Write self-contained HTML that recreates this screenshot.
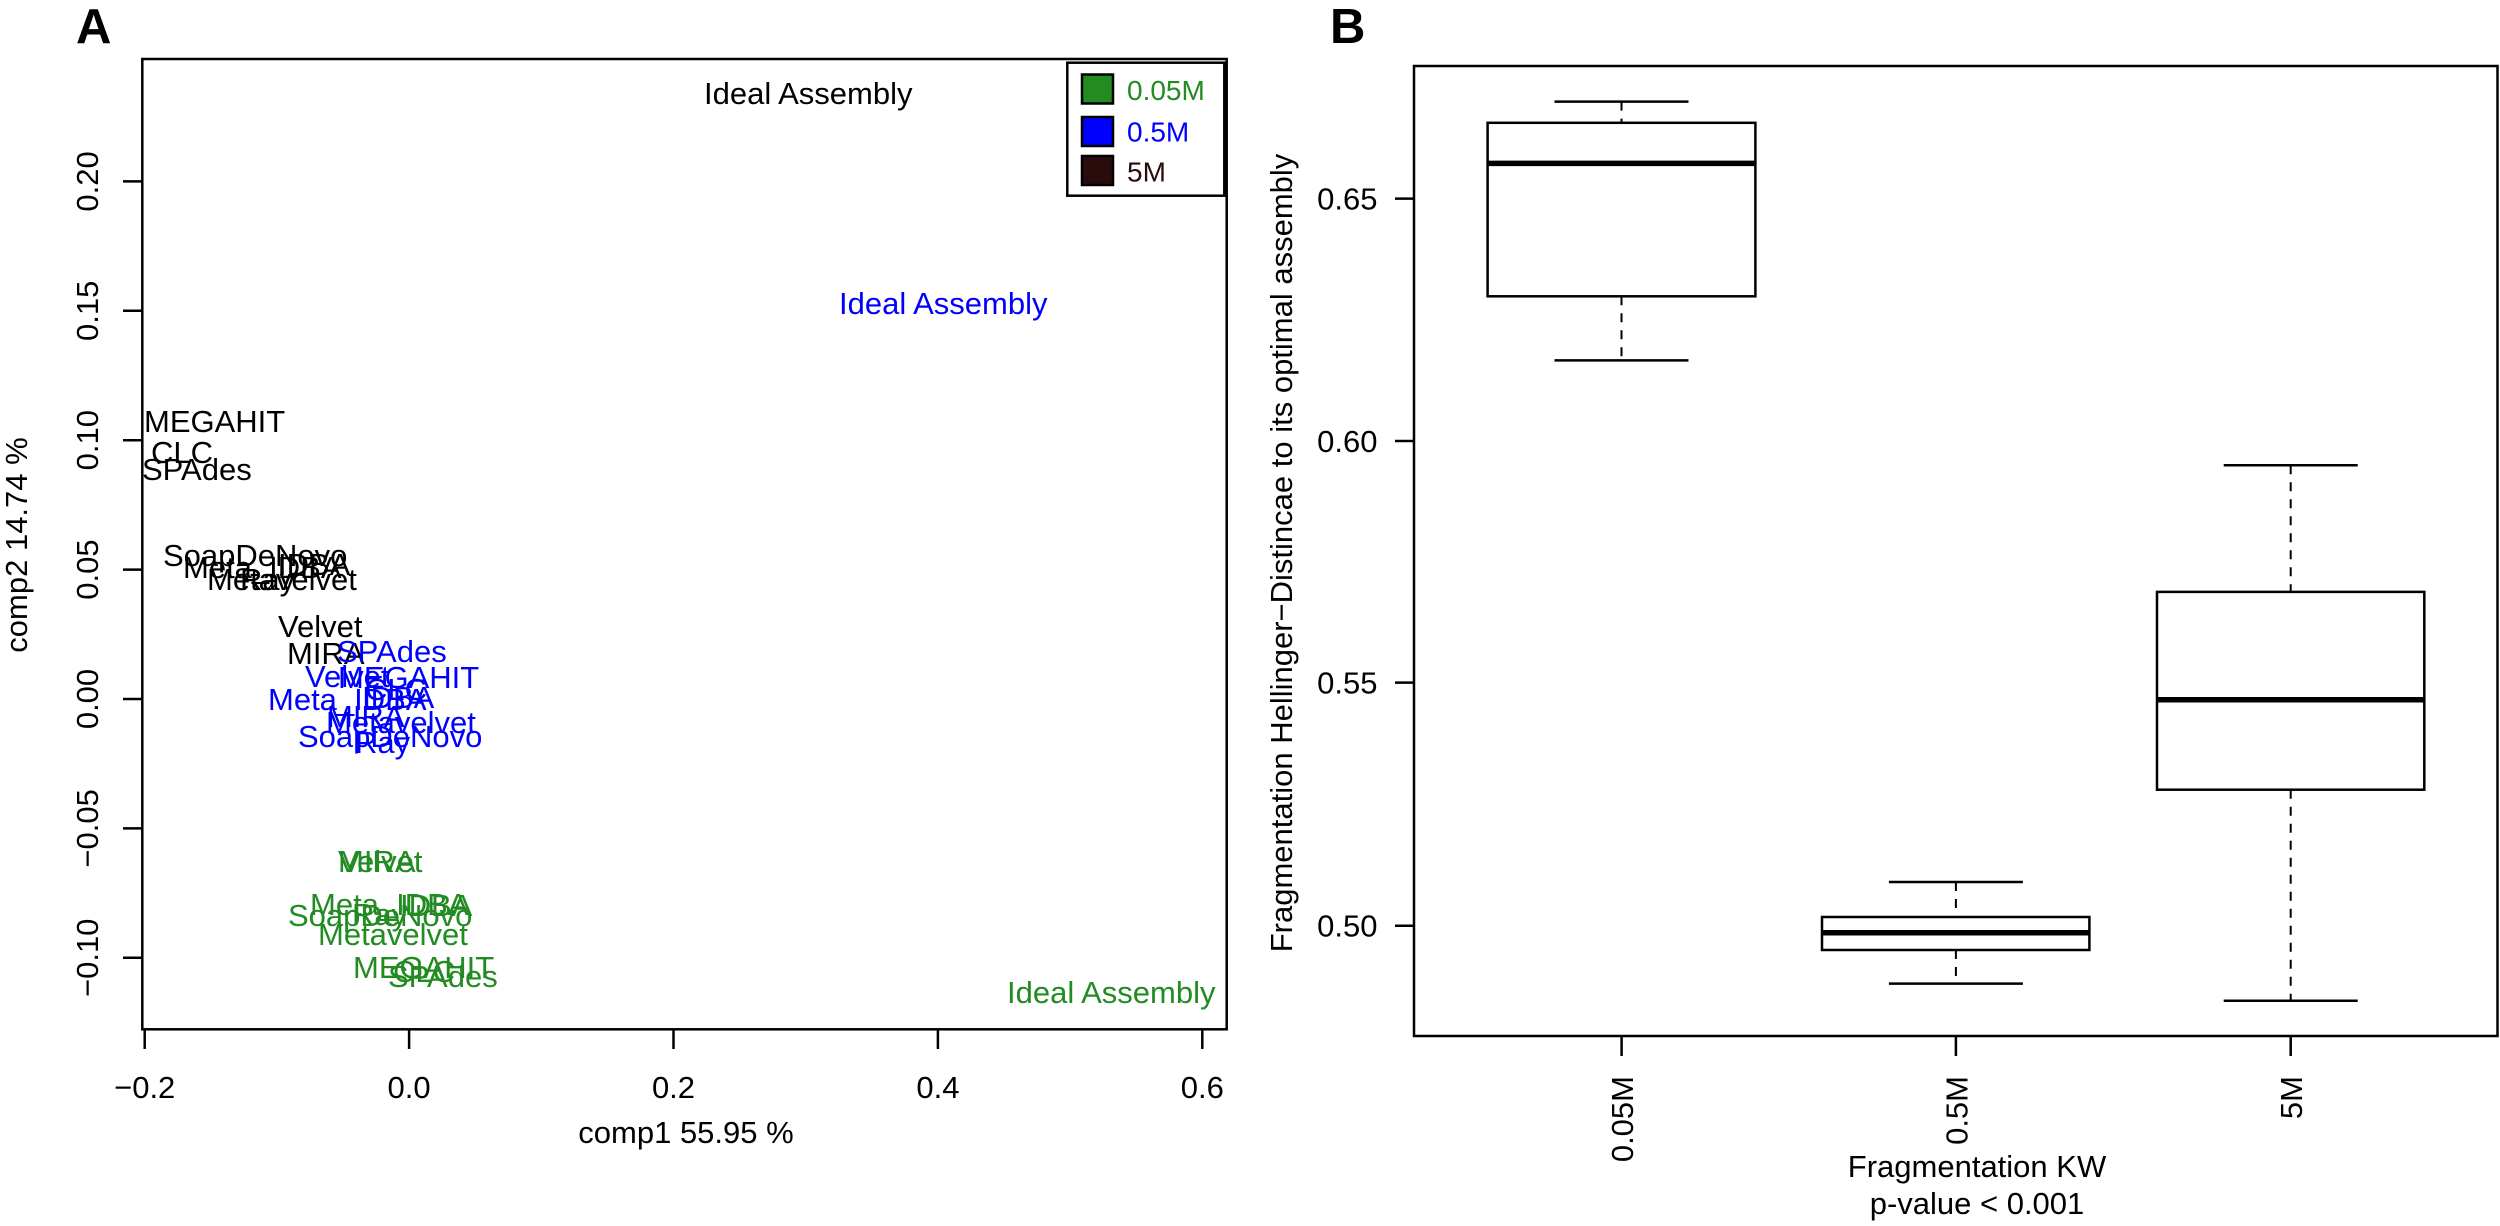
<!DOCTYPE html>
<html><head><meta charset="utf-8"><style>
html,body{margin:0;padding:0;background:#fff;}
svg{display:block;}
text{font-family:"Liberation Sans",Arial,sans-serif;}
</style></head><body>
<svg width="2500" height="1226" viewBox="0 0 2500 1226" xmlns="http://www.w3.org/2000/svg">
<rect width="2500" height="1226" fill="#fff"/>
<!-- Panel A -->
<text x="76" y="43" font-size="49" font-weight="bold">A</text>
<rect x="142.3" y="59" width="1084.4" height="970.3" fill="none" stroke="#000" stroke-width="2.5"/>
<g stroke="#000" stroke-width="2.5">
<line x1="144.7" y1="1029" x2="144.7" y2="1049"/>
<line x1="409.1" y1="1029" x2="409.1" y2="1049"/>
<line x1="673.5" y1="1029" x2="673.5" y2="1049"/>
<line x1="937.9" y1="1029" x2="937.9" y2="1049"/>
<line x1="1202.3" y1="1029" x2="1202.3" y2="1049"/>
<line x1="142" y1="181.4" x2="123" y2="181.4"/>
<line x1="142" y1="310.8" x2="123" y2="310.8"/>
<line x1="142" y1="440.2" x2="123" y2="440.2"/>
<line x1="142" y1="569.6" x2="123" y2="569.6"/>
<line x1="142" y1="699" x2="123" y2="699"/>
<line x1="142" y1="828.4" x2="123" y2="828.4"/>
<line x1="142" y1="957.8" x2="123" y2="957.8"/>
</g>
<g font-size="31" text-anchor="middle">
<text x="144.7" y="1098">−0.2</text>
<text x="409.1" y="1098">0.0</text>
<text x="673.5" y="1098">0.2</text>
<text x="937.9" y="1098">0.4</text>
<text x="1202.3" y="1098">0.6</text>
<text transform="translate(98,181.4) rotate(-90)">0.20</text>
<text transform="translate(98,310.8) rotate(-90)">0.15</text>
<text transform="translate(98,440.2) rotate(-90)">0.10</text>
<text transform="translate(98,569.6) rotate(-90)">0.05</text>
<text transform="translate(98,699) rotate(-90)">0.00</text>
<text transform="translate(98,828.4) rotate(-90)">−0.05</text>
<text transform="translate(98,957.8) rotate(-90)">−0.10</text>
<text x="686" y="1143">comp1 55.95 %</text>
<text transform="translate(27,545) rotate(-90)">comp2 14.74 %</text>
</g>
<g font-size="31" fill="#000">
<text x="704" y="104">Ideal Assembly</text>
<text x="144" y="432">MEGAHIT</text>
<text x="151" y="463">CLC</text>
<text x="142" y="480">SPAdes</text>
<text x="163" y="566">SoapDeNovo</text>
<text x="183" y="578">Meta_IDBA</text>
<text x="278" y="575">IDBA</text>
<text x="240" y="590">Ray</text>
<text x="207" y="590">Metavelvet</text>
<text x="278" y="637">Velvet</text>
<text x="287" y="664">MIRA</text>
</g>
<g font-size="31" fill="#0000FF">
<text x="839" y="314">Ideal Assembly</text>
<text x="337" y="662">SPAdes</text>
<text x="305" y="687">Velvet</text>
<text x="338" y="688">MEGAHIT</text>
<text x="365" y="700">CLC</text>
<text x="268" y="710">Meta_IDBA</text>
<text x="362" y="708">IDBA</text>
<text x="327" y="727">MIRA</text>
<text x="326" y="733">Metavelvet</text>
<text x="298" y="747">SoapDeNovo</text>
<text x="355" y="753">Ray</text>
</g>
<g font-size="31" fill="#228B22">
<text x="1007" y="1003">Ideal Assembly</text>
<text x="338" y="872">MIRA</text>
<text x="338" y="872">Velvet</text>
<text x="310" y="915">Meta_IDBA</text>
<text x="400" y="916">IDBA</text>
<text x="288" y="926">SoapDeNovo</text>
<text x="352" y="925">Ray</text>
<text x="318" y="945">Metavelvet</text>
<text x="353" y="978">MEGAHIT</text>
<text x="393" y="982">CLC</text>
<text x="388" y="987">SPAdes</text>
</g>
<!-- legend -->
<rect x="1067.3" y="62.7" width="157" height="133" fill="#fff" stroke="#000" stroke-width="2.5"/>
<rect x="1082" y="74.5" width="31" height="29" fill="#228B22" stroke="#000" stroke-width="2.5"/>
<rect x="1082" y="117" width="31" height="29" fill="#0000FF" stroke="#000" stroke-width="2.5"/>
<rect x="1082" y="156" width="31" height="29" fill="#2B0C0C" stroke="#000" stroke-width="2.5"/>
<g font-size="28">
<text x="1127" y="100" fill="#228B22">0.05M</text>
<text x="1127" y="141.7" fill="#0000FF">0.5M</text>
<text x="1127" y="181.7" fill="#2B0C0C">5M</text>
</g>

<!-- Panel B -->
<text x="1330" y="43" font-size="49" font-weight="bold">B</text>
<rect x="1414" y="66" width="1083.5" height="970" fill="none" stroke="#000" stroke-width="2.5"/>
<g stroke="#000" stroke-width="2.5">
<line x1="1414" y1="198.6" x2="1395" y2="198.6"/>
<line x1="1414" y1="441" x2="1395" y2="441"/>
<line x1="1414" y1="682.6" x2="1395" y2="682.6"/>
<line x1="1414" y1="925.7" x2="1395" y2="925.7"/>
<line x1="1621.6" y1="1036" x2="1621.6" y2="1056"/>
<line x1="1955.9" y1="1036" x2="1955.9" y2="1056"/>
<line x1="2290.7" y1="1036" x2="2290.7" y2="1056"/>
</g>
<g font-size="31">
<text x="1377.5" y="209.6" text-anchor="end">0.65</text>
<text x="1377.5" y="452" text-anchor="end">0.60</text>
<text x="1377.5" y="693.6" text-anchor="end">0.55</text>
<text x="1377.5" y="936.7" text-anchor="end">0.50</text>
<text transform="translate(1633,1076) rotate(-90)" text-anchor="end">0.05M</text>
<text transform="translate(1967.3,1076) rotate(-90)" text-anchor="end">0.5M</text>
<text transform="translate(2302,1076) rotate(-90)" text-anchor="end">5M</text>
<text transform="translate(1292,553) rotate(-90)" text-anchor="middle">Fragmentation Hellinger−Distincae to its optimal assembly</text>
<text x="1977" y="1177" text-anchor="middle">Fragmentation KW</text>
<text x="1977" y="1214" text-anchor="middle">p-value &lt; 0.001</text>
</g>
<!-- boxes -->
<g stroke="#000" fill="none">
<g stroke-width="2" stroke-dasharray="9 8">
<line x1="1621.5" y1="101.6" x2="1621.5" y2="122.8"/>
<line x1="1621.5" y1="296.3" x2="1621.5" y2="360.4"/>
<line x1="1955.9" y1="882" x2="1955.9" y2="917"/>
<line x1="1955.9" y1="950" x2="1955.9" y2="983.6"/>
<line x1="2290.7" y1="465.2" x2="2290.7" y2="591.9"/>
<line x1="2290.7" y1="789.7" x2="2290.7" y2="1000.8"/>
</g>
<g stroke-width="2.5">
<line x1="1554.5" y1="101.6" x2="1688.5" y2="101.6"/>
<line x1="1554.5" y1="360.4" x2="1688.5" y2="360.4"/>
<line x1="1888.9" y1="882" x2="2022.9" y2="882"/>
<line x1="1888.9" y1="983.6" x2="2022.9" y2="983.6"/>
<line x1="2223.7" y1="465.2" x2="2357.7" y2="465.2"/>
<line x1="2223.7" y1="1000.8" x2="2357.7" y2="1000.8"/>
<rect x="1487.6" y="122.8" width="267.8" height="173.5" fill="#fff"/>
<rect x="1822" y="917" width="267.4" height="33" fill="#fff"/>
<rect x="2157" y="591.9" width="267.3" height="197.8" fill="#fff"/>
</g>
<g stroke-width="5.5">
<line x1="1487.6" y1="163.4" x2="1755.4" y2="163.4"/>
<line x1="1822" y1="932.8" x2="2089.4" y2="932.8"/>
<line x1="2157" y1="699.8" x2="2424.3" y2="699.8"/>
</g>
</g>
</svg>
</body></html>
